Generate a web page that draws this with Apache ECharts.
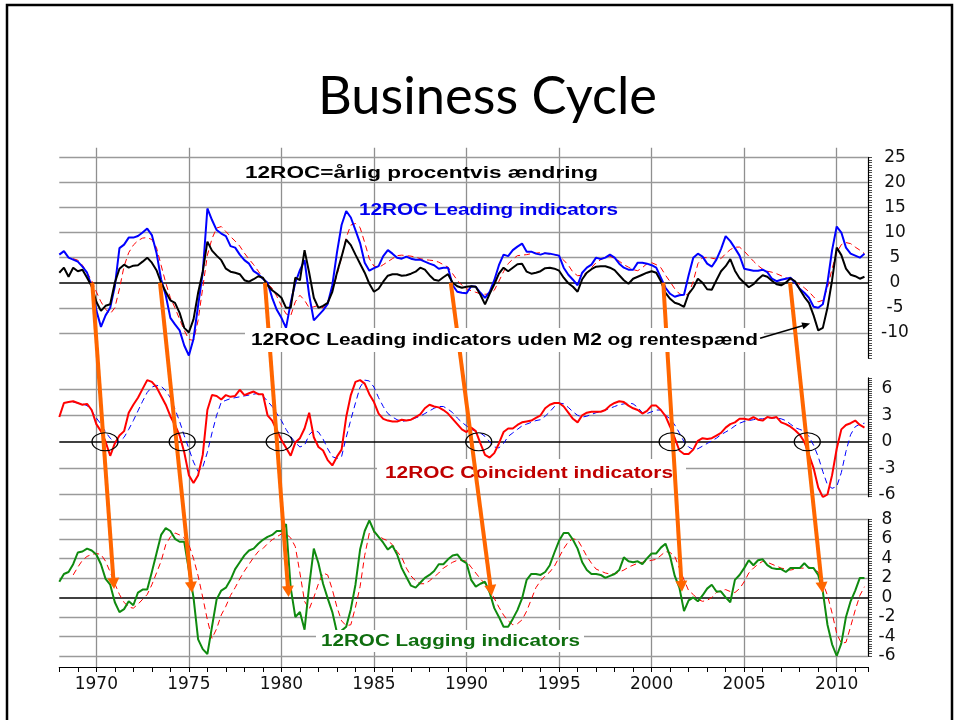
<!DOCTYPE html>
<html>
<head>
<meta charset="utf-8">
<script src="https://cdn.jsdelivr.net/npm/echarts@6/dist/echarts.min.js"></script>
<style>html,body{margin:0;padding:0;background:#fff}#c{width:955px;height:720px}</style>
</head>
<body>
<div id="c"></div>
<script>
// ---------------- DATA (quarterly, starting 1968.00, step 0.25 year) ----------------
const START_YEAR = 1968;
const STEP = 0.25;

// 12ROC Leading indicators (blue)
const leadVals = [
  5.6, 6.3, 5.0, 4.6,   4.2, 3.2, 2.0, -0.7,   -5.5, -8.8, -6.5, -5.0,   -0.7, 6.9, 7.6, 9.0,
  9.0, 9.3, 10.0, 10.8,   9.5, 6.0, 0.7, -2.5,   -7.0, -8.3, -9.5, -12.5,   -14.5, -11.2, -4.5, 2.0,
  14.8, 12.5, 10.5, 9.8,   9.3, 7.3, 7.0, 5.6,   4.5, 3.8, 2.3, 1.7,   0.8, 0.0, -3.0, -5.4,
  -7.0, -9.0, -4.0, 0.0,   2.5, 4.5, -2.5, -7.5,   -6.5, -5.5, -4.2, -0.5,   6.0, 11.5, 14.3, 13.0,
  10.5, 7.9, 4.0, 2.4,   2.9, 3.3, 5.3, 6.5,   5.8, 5.0, 4.8, 5.2,   4.8, 4.6, 4.6, 4.2,
  3.8, 3.5, 2.8, 3.0,   3.0, -0.5, -1.8, -2.0,   -2.1, -0.7, -0.8, -2.0,   -3.0, -1.8, 0.5, 3.5,
  5.6, 5.3, 6.5, 7.2,   7.8, 6.2, 6.2, 5.8,   5.6, 5.9, 5.8, 5.6,   5.4, 3.0, 1.6, 0.6,
  -0.5, 2.0, 3.0, 3.6,   5.0, 4.7, 5.0, 5.6,   5.0, 3.8, 3.0, 2.6,   2.6, 4.0, 4.0, 3.8,
  3.5, 3.0, 1.0, -1.0,   -2.2, -2.8, -2.5, -2.4,   1.5, 5.0, 5.8, 5.2,   3.8, 3.2, 4.6, 6.7,
  9.3, 8.3, 6.9, 5.4,   2.8, 2.6, 2.4, 2.4,   2.6, 2.1, 0.8, 0.3,   0.6, 0.8, 1.0, 0.0,
  -1.2, -2.0, -3.0, -4.8,   -5.0, -4.3, 0.0, 6.5,   11.2, 10.0, 7.0, 5.8,   5.4, 5.0, 5.8
];
// 12ROC Leading indicators uden M2 og rentespænd (black)
const leadExVals = [
  2.0, 3.0, 1.2, 3.0,   2.3, 2.6, 1.0, -0.7,   -3.8, -5.6, -4.6, -4.3,   0.0, 2.8, 3.6, 3.0,
  3.4, 3.5, 4.2, 5.0,   4.0, 2.5, 0.0, -1.8,   -3.5, -4.0, -6.0, -9.0,   -9.9, -7.3, -2.0, 2.2,
  8.2, 6.4, 5.4, 4.5,   2.8, 2.2, 2.0, 1.7,   0.5, 0.2, 0.7, 1.3,   1.0, -0.5, -1.5, -2.2,
  -3.0, -5.0, -5.0, 1.0,   0.5, 6.5, 2.0, -3.0,   -5.0, -4.6, -4.0, -1.8,   2.0, 5.2, 8.6, 7.5,
  5.6, 3.8, 2.0, -0.2,   -1.8, -1.2, 0.2, 1.4,   1.7, 1.7, 1.4, 1.5,   1.8, 2.2, 3.0, 2.6,
  1.5, 0.6, 0.4, 1.1,   1.7, 0.0, -0.7, -1.0,   -0.8, -0.7, -0.8, -2.4,   -4.3, -2.2, -0.3, 1.8,
  3.0, 2.3, 3.0, 3.7,   3.8, 2.2, 1.8, 2.0,   2.3, 2.9, 3.0, 2.8,   2.4, 1.0, -0.1, -0.8,
  -1.8, 0.7, 2.0, 2.7,   3.2, 3.3, 3.3, 3.0,   2.5, 1.5, 0.5, -0.2,   0.8, 1.2, 1.6, 2.0,
  2.3, 2.0, 0.3, -2.0,   -3.2, -4.0, -4.3, -4.8,   -2.2, -1.0, 0.8, 0.0,   -1.3, -1.4, 0.5, 2.3,
  3.3, 4.7, 2.4, 0.9,   0.0, -0.9, -0.3, 0.7,   1.5, 1.2, 0.4, -0.3,   -0.5, 0.0, 0.9, 0.3,
  -1.3, -2.8, -4.0, -6.5,   -9.5, -9.0, -5.0, 0.5,   7.0, 5.5, 2.8, 1.6,   1.3, 0.8, 1.2
];
// red dashed trend, leading panel
const leadTrend = [
  null, null, null, 4.8,   4.5, 3.5, 2.0, 0.4,   -1.8, -3.8, -5.3, -6.2,   -5.0, -1.2, 3.3, 6.0,
  7.5, 8.4, 8.9, 9.0,   8.6, 7.0, 3.5, 0.0,   -3.0, -5.0, -7.3, -9.5,   -11.3, -11.5, -7.5, -1.0,
  5.5, 8.8, 10.9, 11.2,   10.2, 9.2, 8.3, 7.3,   5.9, 4.7, 3.6, 2.3,   1.0, -0.2, -1.1, -2.7,
  -4.6, -6.2, -6.6, -3.8,   -2.5, -3.5, -5.0, -4.8,   -4.5, -5.0, -3.8, -1.5,   1.5, 5.0, 9.0, 11.5,
  11.8, 11.0, 8.0, 4.8,   3.3, 3.0, 3.6, 4.2,   4.8, 5.4, 5.5, 5.4,   5.3, 5.1, 4.8, 4.6,
  4.5, 4.4, 4.1, 3.6,   3.1, 1.8, 0.5, -0.5,   -1.2, -1.6, -1.9, -2.2,   -2.3, -2.2, -1.5, 0.3,
  2.2, 3.8, 4.7, 5.4,   5.5, 5.6, 5.8, 5.9,   6.0, 5.9, 5.7, 5.6,   5.4, 4.5, 3.5, 2.1,
  1.4, 1.5, 2.0, 3.0,   4.0, 4.6, 5.1, 5.3,   4.8, 4.3, 3.6, 3.1,   2.6, 2.4, 3.0, 3.8,
  4.0, 3.6, 3.0, 1.5,   0.2, -1.2, -2.2, -2.6,   -2.2, 0.3, 3.8, 5.0,   5.0, 4.9, 4.7, 4.8,
  5.8, 6.6, 7.1, 7.1,   6.3, 5.3, 4.3, 3.4,   2.7, 2.3, 2.1, 1.8,   1.4, 1.0, 0.6, 0.1,
  -0.3, -1.0, -1.8, -2.8,   -3.8, -3.5, -1.0, 2.8,   6.0, 7.6, 8.0, 7.8,   7.1, 6.5, 5.8
];
// 12ROC Coincident indicators (red)
const coinVals = [
  2.8, 4.4, 4.5, 4.6,   4.4, 4.2, 4.3, 3.6,   2.0, 1.2, 0.0, -1.6,   -0.2, 0.7, 1.2, 3.3,
  4.2, 5.0, 6.0, 7.0,   6.8, 6.2, 5.2, 4.2,   2.9, 1.9, 0.7, -1.2,   -3.8, -4.7, -3.8, -1.5,
  3.6, 5.3, 5.2, 4.8,   5.3, 5.1, 5.2, 5.9,   5.3, 5.5, 5.7, 5.4,   5.4, 3.0, 2.4, 1.3,
  0.2, -0.7, -1.6, -0.1,   0.4, 1.5, 3.3, 0.5,   -0.6, -1.0, -2.1, -2.7,   -1.7, -0.9, 2.8, 5.3,
  6.8, 7.0, 6.6, 5.4,   4.5, 3.2, 2.6, 2.4,   2.3, 2.3, 2.5, 2.4,   2.5, 2.8, 3.1, 3.8,
  4.2, 4.0, 3.9, 3.6,   3.2, 2.6, 2.0, 1.4,   1.1, 1.6, 1.2, -0.2,   -1.5, -1.8, -1.3, -0.2,
  1.1, 1.5, 1.5, 1.9,   2.2, 2.3, 2.4, 2.7,   3.0, 3.8, 4.2, 4.4,   4.4, 4.0, 3.3, 2.6,
  2.2, 3.0, 3.3, 3.4,   3.4, 3.4, 3.6, 4.1,   4.4, 4.6, 4.5, 4.1,   3.8, 3.6, 3.2, 3.5,
  4.1, 4.1, 3.6, 2.9,   1.7, 0.4, -1.0, -1.4,   -1.4, -0.9, 0.1, 0.4,   0.3, 0.4, 0.7, 1.0,
  1.6, 2.0, 2.2, 2.6,   2.6, 2.5, 2.8, 2.5,   2.4, 2.8, 2.7, 2.8,   2.2, 2.0, 1.7, 1.3,
  0.8, 0.0, -1.5, -3.0,   -5.2, -6.3, -6.0, -3.8,   -0.8, 1.4, 1.9, 2.1,   2.4, 1.9, 1.6
];
// blue dashed trend, coincident panel
const coinTrend = [
  null, null, null, 4.5,   4.4, 4.3, 4.1, 3.5,   2.7, 2.0, 1.1, 0.4,   -0.1, 0.0, 0.5, 1.4,
  2.4, 3.5, 4.6, 5.6,   6.2, 6.4, 6.3, 5.8,   5.0, 3.7, 2.3, 0.7,   -0.8, -2.3, -3.4, -2.9,
  -1.2, 1.0, 3.0, 4.5,   4.7, 4.9, 5.0, 5.1,   5.2, 5.3, 5.4, 5.5,   5.2, 4.6, 4.0, 3.2,
  2.4, 1.4, 0.6, -0.1,   -0.6, -0.4, 0.8, 1.3,   1.1, 0.3, -0.8, -1.7,   -1.9, -1.7, 0.5, 2.5,
  4.4, 6.2, 7.0, 6.9,   6.2, 5.0, 4.0, 3.2,   2.8, 2.5, 2.3, 2.4,   2.5, 2.7, 2.9, 3.2,
  3.5, 3.8, 4.0, 4.0,   3.7, 3.3, 2.7, 2.2,   1.8, 1.4, 1.2, 1.0,   0.6, 0.0, -0.6, -0.7,
  -0.2, 0.6, 1.0, 1.4,   1.8, 2.0, 2.2, 2.4,   2.5, 2.9, 3.4, 4.0,   4.4, 4.3, 3.9, 3.4,
  3.0, 2.8, 2.9, 3.1,   3.3, 3.4, 3.6, 3.8,   4.0, 4.2, 4.3, 4.4,   4.3, 3.9, 3.3, 3.2,
  3.4, 3.6, 3.6, 3.0,   2.6, 1.9, 1.0, 0.0,   -0.6, -0.9, -0.8, -0.5,   -0.2, 0.1, 0.4, 0.8,
  1.1, 1.4, 1.8, 2.1,   2.3, 2.4, 2.5, 2.6,   2.6, 2.7, 2.7, 2.7,   2.6, 2.4, 2.0, 1.6,
  1.4, 1.2, 0.6, -0.4,   -1.7, -3.4, -4.9, -5.3,   -5.1, -3.5, -1.1, 0.8,   1.7, 2.0, 2.1
];
// 12ROC Lagging indicators (green)
const lagVals = [
  1.6, 2.4, 2.6, 3.4,   4.6, 4.7, 5.0, 4.8,   4.4, 3.4, 1.9, 1.3,   -0.5, -1.5, -1.2, -0.4,
  -0.8, 0.5, 0.8, 0.8,   2.6, 4.5, 6.4, 7.1,   6.8, 6.0, 5.7, 5.7,   2.8, 0.0, -4.3, -5.3,
  -5.8, -3.0, -0.2, 0.7,   1.0, 1.8, 2.9, 3.6,   4.3, 4.8, 5.0, 5.5,   5.9, 6.2, 6.4, 6.8,
  6.8, 7.5, 1.0, -2.0,   -1.5, -3.3, 1.2, 5.0,   3.5, 1.4, -0.1, -1.5,   -3.6, -3.4, -3.0, -1.2,
  1.3, 4.9, 6.8, 7.9,   6.8, 6.2, 5.6, 4.9,   5.3, 4.4, 3.0, 2.1,   1.2, 1.0, 1.5, 2.0,
  2.3, 2.7, 3.4, 3.4,   3.9, 4.3, 4.4, 3.8,   3.5, 1.8, 1.1, 1.4,   1.6, 0.5, -1.1, -2.0,
  -3.0, -3.0, -2.2, -1.3,   -0.1, 1.8, 2.4, 2.4,   2.3, 2.6, 3.3, 4.6,   5.8, 6.6, 6.6, 5.9,
  5.0, 3.6, 2.8, 2.4,   2.4, 2.3, 2.0, 2.2,   2.4, 2.8, 4.1, 3.7,   3.6, 3.7, 3.4, 4.0,
  4.5, 4.5, 5.1, 5.5,   4.2, 2.2, 1.0, -1.4,   -0.3, 0.0, -0.4, 0.2,   0.9, 1.3, 0.6, 0.6,
  0.0, -0.5, 1.8, 2.3,   3.0, 3.8, 3.3, 3.8,   3.9, 3.3, 3.0, 2.9,   2.9, 2.6, 3.0, 3.0,
  3.0, 3.5, 3.0, 3.0,   2.3, 0.6, -2.8, -4.8,   -6.0, -4.7, -2.0, -0.4,   0.7, 2.0, 2.0
];
// red dashed trend, lagging panel
const lagTrend = [
  null, null, null, 2.3,   3.1, 3.8, 4.2, 4.4,   4.5, 4.4, 3.7, 2.6,   1.4, 0.3, -0.5, -1.0,
  -1.1, -0.7, -0.2, 0.3,   1.3, 2.5, 3.7, 5.4,   6.2, 6.6, 6.4, 6.1,   5.4, 4.0, 2.2, 0.0,
  -2.3, -4.2, -3.2, -1.8,   -0.9, 0.2, 1.0, 1.9,   2.7, 3.4, 4.1, 4.7,   5.0, 5.5, 5.9, 6.2,
  6.5, 6.5, 6.1, 5.2,   2.5, -0.4, -1.2, 0.0,   1.4, 2.5, 2.3, 0.8,   -1.0, -2.4, -2.9, -2.8,
  -1.0, 1.1, 4.3, 6.6,   6.7, 6.3, 6.0, 5.8,   5.4, 4.7, 4.1, 3.0,   2.2, 1.7, 1.4, 1.4,
  1.7, 2.1, 2.5, 3.0,   3.3, 3.6, 3.8, 3.8,   3.7, 3.1, 2.5, 1.9,   1.4, 0.8, -0.1, -1.0,
  -1.8, -2.4, -2.8, -2.7,   -2.3, -1.4, -0.2, 1.0,   1.7, 2.2, 2.6, 3.2,   4.1, 5.0, 5.7, 6.0,
  5.9, 5.1, 4.2, 3.5,   2.9, 2.7, 2.5, 2.4,   2.4, 2.6, 2.8, 3.1,   3.3, 3.5, 3.6, 3.7,
  3.8, 3.9, 4.3, 4.7,   4.6, 4.2, 3.0, 1.8,   0.7, 0.3, -0.2, -0.4,   -0.3, 0.0, 0.5, 0.7,
  0.8, 0.6, 0.5, 0.9,   1.6, 2.5, 3.0, 3.4,   3.7, 3.6, 3.4, 3.2,   3.0, 2.9, 2.8, 2.9,
  3.0, 3.0, 3.1, 3.0,   2.6, 1.5, 0.2, -1.6,   -3.7, -4.7, -4.6, -3.0,   -1.3, 0.2, 1.1
];

// tick labels
const yearLabels = [1970, 1975, 1980, 1985, 1990, 1995, 2000, 2005, 2010];
const leadTicks = [25, 20, 15, 10, 5, 0, -5, -10];
const coinTicks = [6, 3, 0, -3, -6];
const lagTicks = [8, 6, 4, 2, 0, -2, -4, -6];

// annotations (data units)
const arrowStartYears = [1969.78, 1973.44, 1979.11, 1989.15, 2000.63, 2007.48]; // on leading zero line
const arrowEndYears   = [1970.96, 1975.17, 1980.39, 1991.36, 2001.64, 2009.24]; // lagging panel
const arrowEndValues  = [0.86, 0.48, 0.04, 0.14, 0.58, 0.45];
const circleYears = [1970.47, 1974.64, 1979.88, 1990.66, 2001.11, 2008.41]; // coincident zero crossings
const pointerFrom = [2005.86, -11.05];
const pointerTo = [2008.56, -8.13];

// ---------------- CHART ----------------
const X_MIN = 1968, X_MAX = 2011.69;
const FONT_AX = 'DejaVu Sans';
const toXY = vals => vals.map((v, i) => [START_YEAR + i * STEP, v]);

const chart = echarts.init(document.getElementById('c'), null, {renderer: 'canvas', width: 955, height: 720});

const grids = [
  {left: 59.3, top: 157.3, width: 808.7, height: 200.7},
  {left: 59.3, top: 377.9, width: 808.7, height: 118.8},
  {left: 59.3, top: 519.3, width: 808.7, height: 136.7},
  {left: 59.3, top: 147.7, width: 808.7, height: 519.3}
];

function xAx(idx, show) {
  return {
    gridIndex: idx, type: 'value', min: X_MIN, max: X_MAX, interval: 1, show: show,
    position: 'bottom', offset: show ? 11 : 0,
    axisLine: {show: true, onZero: false, lineStyle: {color: '#000', width: 1.2}},
    axisTick: {show: true, inside: false, length: 5, lineStyle: {color: '#000', width: 1}},
    axisLabel: {margin: 9, fontFamily: FONT_AX, fontSize: 17, color: '#111',
      formatter: v => (yearLabels.indexOf(v) >= 0 ? String(v) : '')},
    splitLine: {show: false}
  };
}
function yAx(idx, min, max, step, labels, margin) {
  return {
    gridIndex: idx, type: 'value', position: 'right', min: min, max: max, interval: step,
    axisLine: {show: true, onZero: false, lineStyle: {color: '#000', width: 1.2}},
    axisTick: {show: true, inside: false, length: 4, lineStyle: {color: '#000', width: 0.7}},
    axisLabel: {show: true, margin: margin, align: 'center', fontFamily: FONT_AX, fontSize: 17, color: '#111',
      padding: [5, 0, 0, 0],
      formatter: v => (labels.indexOf(v) >= 0 ? String(v) : '')},
    splitLine: {show: false}
  };
}
function gridLines(idx, ticks) {
  return {
    type: 'line', xAxisIndex: idx, yAxisIndex: idx, data: [], silent: true, z: 1,
    markLine: {
      silent: true, z: 1, symbol: ['none', 'none'], animation: false, label: {show: false},
      emphasis: {disabled: true},
      data: ticks.map(t => ({yAxis: t, lineStyle: t === 0
        ? {color: '#000', width: 1.6, type: 'solid'}
        : {color: '#9a9a9a', width: 1.3, type: 'solid'}}))
    }
  };
}
function lineS(idx, vals, color, width, dashed, z) {
  return {
    type: 'line', xAxisIndex: idx, yAxisIndex: idx, data: toXY(vals),
    showSymbol: false, symbol: 'none', connectNulls: false, silent: true, z: z,
    lineStyle: {color: color, width: width, type: dashed ? [6, 4] : 'solid'},
    emphasis: {disabled: true}
  };
}

chart.setOption({
  animation: false,
  backgroundColor: '#fff',
  grid: grids,
  xAxis: [xAx(0, false), xAx(1, false), xAx(2, true), xAx(3, false)],
  yAxis: [
    yAx(0, -15, 25, 0.5, leadTicks, 27),
    yAx(1, -6.25, 7.25, 0.25, coinTicks, 19),
    yAx(2, -6, 8, 0.25, lagTicks, 19),
    {gridIndex: 3, type: 'value', min: 0, max: 1, show: false}
  ],
  series: [
    {
      type: 'line', xAxisIndex: 3, yAxisIndex: 3, data: [], silent: true, z: 1,
      markLine: {silent: true, z: 1, symbol: ['none', 'none'], animation: false, label: {show: false},
        emphasis: {disabled: true},
        lineStyle: {color: '#8f8f8f', width: 1.3, type: 'solid'},
        data: yearLabels.map(y => ({xAxis: y}))}
    },
    gridLines(0, leadTicks),
    gridLines(1, coinTicks),
    gridLines(2, lagTicks),
    lineS(0, leadTrend, '#ff0000', 1, true, 3),
    lineS(0, leadVals, '#0000ff', 2, false, 4),
    lineS(0, leadExVals, '#000000', 2, false, 5),
    lineS(1, coinTrend, '#0000ff', 1, true, 3),
    lineS(1, coinVals, '#ff0000', 2, false, 4),
    lineS(2, lagTrend, '#ff0000', 1, true, 3),
    lineS(2, lagVals, '#0f8a0f', 2, false, 4)
  ]
});

// ---------------- ANNOTATIONS ----------------
const mctx = document.createElement('canvas').getContext('2d');
function measure(str, weight, size, family) {
  mctx.font = weight + ' ' + size + 'px "' + family + '"';
  return mctx.measureText(str).width;
}
function fitText(str, left, right, cy, weight, size, family, color, z) {
  const w = measure(str, weight, size, family);
  const s = (right - left) / w;
  return {
    type: 'text', x: left, y: cy, scaleX: s, scaleY: 1, z: z, silent: true,
    style: {text: str, fontSize: size, fontWeight: weight, fontFamily: family, fill: color,
      textAlign: 'left', textVerticalAlign: 'middle', align: 'left', verticalAlign: 'middle'}
  };
}
function whiteBox(x1, y1, x2, y2, z) {
  return {type: 'rect', z: z, silent: true, shape: {x: x1, y: y1, width: x2 - x1, height: y2 - y1},
    style: {fill: '#ffffff', stroke: null}};
}
function arrow(p0, p1, color, width, headLen, headW, z) {
  const dx = p1[0] - p0[0], dy = p1[1] - p0[1];
  const len = Math.hypot(dx, dy);
  const ux = dx / len, uy = dy / len, nx = -uy, ny = ux;
  const bx = p1[0] - ux * headLen, by = p1[1] - uy * headLen;
  return [
    {type: 'line', z: z, silent: true, shape: {x1: p0[0], y1: p0[1], x2: bx + ux, y2: by + uy},
      style: {stroke: color, lineWidth: width}},
    {type: 'polygon', z: z, silent: true,
      shape: {points: [[p1[0], p1[1]], [bx + nx * headW / 2, by + ny * headW / 2], [bx - nx * headW / 2, by - ny * headW / 2]]},
      style: {fill: color}}
  ];
}

const px = (axis, pt) => chart.convertToPixel({xAxisIndex: axis, yAxisIndex: axis}, pt);

const gfx = [];
// frame
gfx.push({type: 'rect', z: 100, silent: true, shape: {x: 7, y: 5, width: 945, height: 740},
  style: {fill: 'transparent', stroke: '#000', lineWidth: 2.5}});
// title
gfx.push(fitText('Business Cycle', 318, 657, 97.5, 'normal', 52, 'Lato', '#000', 60));
// top annotations
gfx.push(fitText('12ROC=årlig procentvis ændring', 245, 598, 174, 'bold', 16, 'Liberation Sans', '#000', 60));
gfx.push(fitText('12ROC Leading indicators', 359, 618, 211, 'bold', 16, 'Liberation Sans', '#0000ee', 60));
// coincident label (under arrows)
gfx.push(whiteBox(377, 459, 686, 488, 40));
gfx.push(fitText('12ROC Coincident indicators', 385, 673, 473.5, 'bold', 16, 'Liberation Sans', '#c00000', 41));
// lagging label
gfx.push(whiteBox(316, 630, 584, 652, 40));
gfx.push(fitText('12ROC Lagging indicators', 321, 580, 642, 'bold', 16, 'Liberation Sans', '#0f6e0f', 41));

// orange arrows
for (let i = 0; i < arrowStartYears.length; i++) {
  const p0 = px(0, [arrowStartYears[i], 0]);
  const p1 = px(2, [arrowEndYears[i], arrowEndValues[i]]);
  arrow(p0, p1, '#ff6600', 4, 11, 12, 45).forEach(e => gfx.push(e));
}
// circles at coincident zero crossings
circleYears.forEach(yr => {
  const c = px(1, [yr, 0]);
  gfx.push({type: 'circle', z: 46, silent: true, x: c[0], y: c[1], scaleX: 1, scaleY: 9 / 13,
    shape: {cx: 0, cy: 0, r: 13}, style: {fill: 'transparent', stroke: '#000', lineWidth: 1.3}});
});

// leading-ex label on top of arrows
gfx.push(whiteBox(245, 328, 764, 352, 50));
gfx.push(fitText('12ROC Leading indicators uden M2 og rentespænd', 251, 758, 340.5, 'bold', 16, 'Liberation Sans', '#000', 51));
// pointer arrow to black line
arrow(px(0, pointerFrom), px(0, pointerTo), '#000', 1.5, 8, 7, 52).forEach(e => gfx.push(e));

chart.setOption({graphic: gfx});
</script>
</body>
</html>
